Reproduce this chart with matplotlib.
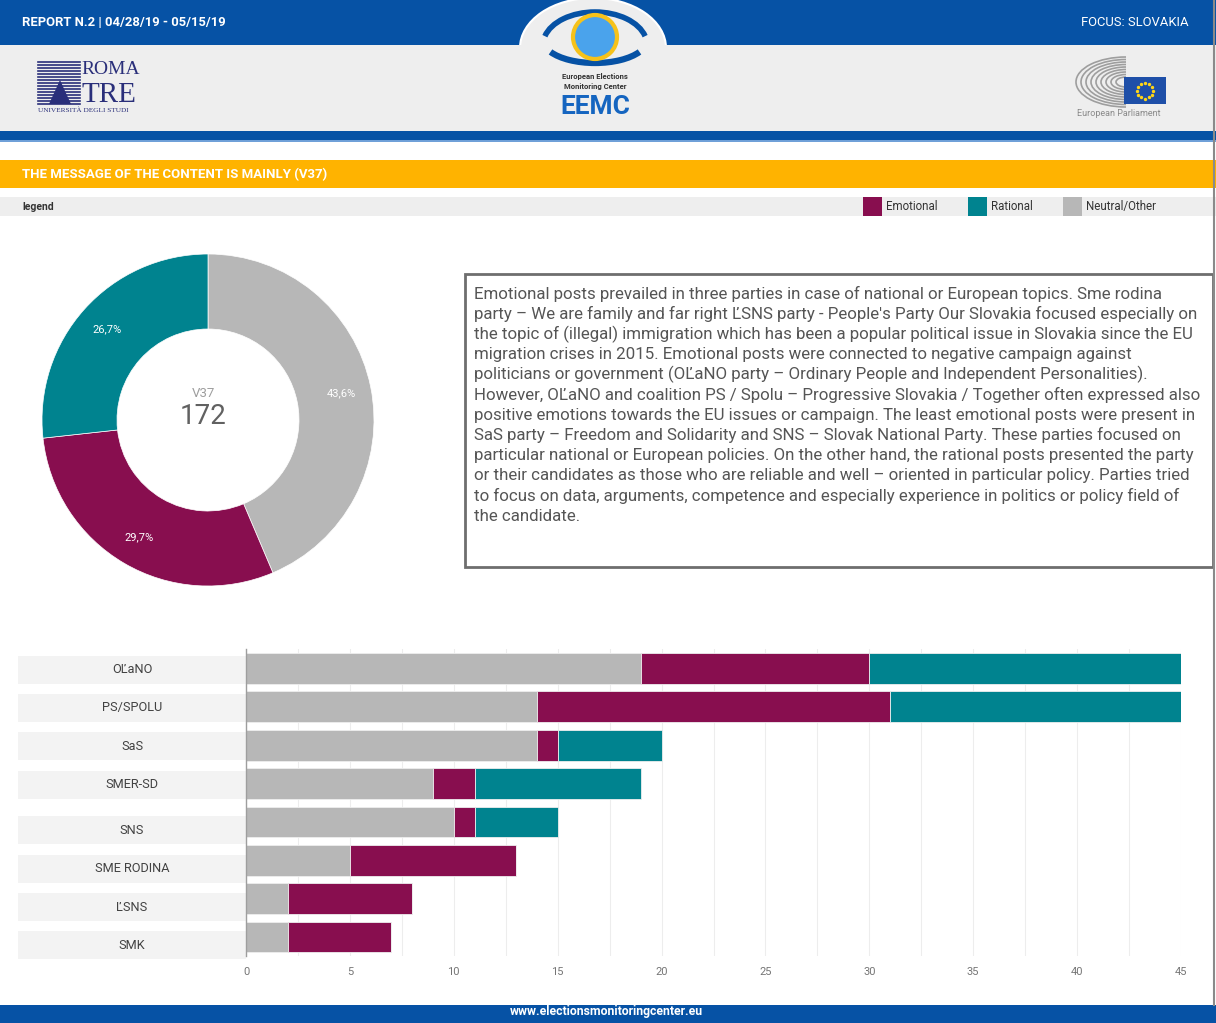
import numpy as np
import matplotlib
matplotlib.use("Agg")
import matplotlib.pyplot as plt
from matplotlib.patches import Rectangle, Circle, Ellipse, Arc, Polygon

plt.rcParams['font.family'] = ['Roboto', 'DejaVu Sans']

# === data ===
parties = ["OĽaNO", "PS/SPOLU", "SaS", "SMER-SD", "SNS", "SME RODINA", "ĽSNS", "SMK"]
neutral = [19, 14, 14, 9, 10, 5, 2, 2]
emotional = [11, 17, 1, 2, 1, 8, 6, 5]
rational = [15, 14, 5, 8, 4, 0, 0, 0]

donut_labels = ["Neutral/Other", "Emotional", "Rational"]
donut_total = 172

col_emo = "#880E4F"
col_rat = "#00838F"
col_neu = "#B7B7B7"
col_blue = "#0652A5"
col_orange = "#FFB300"

text_lines = [
    "Emotional posts prevailed in three parties in case of national or European topics. Sme rodina",
    "party – We are family and far right ĽSNS party - People's Party Our Slovakia focused especially on",
    "the topic of (illegal) immigration which has been a popular political issue in Slovakia since the EU",
    "migration crises in 2015. Emotional posts were connected to negative campaign against",
    "politicians or government (OĽaNO party – Ordinary People and Independent Personalities).",
    "However, OĽaNO and coalition PS / Spolu – Progressive Slovakia / Together often expressed also",
    "positive emotions towards the EU issues or campaign. The least emotional posts were present in",
    "SaS party – Freedom and Solidarity and SNS – Slovak National Party. These parties focused on",
    "particular national or European policies. On the other hand, the rational posts presented the party",
    "or their candidates as those who are reliable and well – oriented in particular policy. Parties tried",
    "to focus on data, arguments, competence and especially experience in politics or policy field of",
    "the candidate.",
]

W, H = 1216, 1023
fig = plt.figure(figsize=(W / 100, H / 100), dpi=100)


def fig_rect(x0, y0, x1, y1):
    return [x0 / W, 1 - y1 / H, (x1 - x0) / W, (y1 - y0) / H]


# === page chrome in pixel coords ===
bg = fig.add_axes([0, 0, 1, 1])
bg.set_xlim(0, W)
bg.set_ylim(H, 0)
bg.axis("off")

bg.add_patch(Rectangle((0, 0), W, 45, color=col_blue, lw=0))
bg.add_patch(Ellipse((593, 48), 146, 100, facecolor="#EEEEEE", edgecolor="white", lw=1.5))
bg.add_patch(Rectangle((0, 45), W, 86, color="#EEEEEE", lw=0))
bg.add_patch(Rectangle((0, 131), W, 9, color=col_blue, lw=0))
bg.add_patch(Rectangle((0, 140), W, 1.5, color="#6FA0D8", lw=0))
bg.text(22, 23, "REPORT N.2 | 04/28/19 - 05/15/19", color="white", fontsize=9.4,
        fontweight="bold", va="center", ha="left")
bg.text(1189, 23, "FOCUS: SLOVAKIA", color="white", fontsize=9.4, va="center", ha="right")

# EEMC logo (rough)
bg.add_patch(Arc((595, 45), 104, 66, theta1=190, theta2=350, color=col_blue, lw=4))
bg.add_patch(Arc((595, 40), 104, 46, theta1=15, theta2=165, color=col_blue, lw=4.5))
bg.add_patch(Circle((595, 37), 22, facecolor="#4AA3EC", edgecolor="#F6C21A", lw=3))
bg.text(595, 76, "European Elections", fontsize=5.5, fontweight="bold", color="#333333",
        ha="center", va="center")
bg.text(595, 87, "Monitoring Center", fontsize=5.5, fontweight="bold", color="#333333",
        ha="center", va="center")
bg.text(595, 107, "EEMC", fontsize=19, fontweight="bold", color="#1565C0",
        ha="center", va="center")

# Roma Tre logo (rough)
navy = "#2A2F7A"
for yy in np.arange(62, 106, 3):
    bg.plot([38, 80], [yy, yy], color=navy, lw=1.2)
bg.add_patch(Rectangle((47, 76), 26, 30, color="#EEEEEE", lw=0))
bg.add_patch(Polygon([(49, 104), (60, 80), (71, 104)], color=navy, lw=0))
bg.text(81, 70, "ROMA", family="Liberation Serif", fontsize=14, color=navy, va="center")
bg.text(81, 95, "TRE", family="Liberation Serif", fontsize=21, color=navy, va="center")
bg.text(38, 110, "UNIVERSITÀ DEGLI STUDI", family="Liberation Serif", fontsize=5.2,
        color=navy, va="center")

# European Parliament logo (rough)
for r in range(10, 52, 5):
    bg.add_patch(Arc((1126, 82), 2 * r, r, theta1=90, theta2=270, color="#9E9E9E", lw=1.2))
bg.add_patch(Rectangle((1124, 77), 42, 27, color="#1E4FA8", lw=0))
ang = np.linspace(0, 2 * np.pi, 12, endpoint=False)
bg.scatter(1145 + 8 * np.cos(ang), 90.5 + 8 * np.sin(ang), s=2, color="#FFD617", zorder=5)
bg.text(1119, 114, "European Parliament", fontsize=6.5, color="#8A8A8A",
        ha="center", va="center")

# section title + legend strip
bg.add_patch(Rectangle((0, 160), W, 28, color=col_orange, lw=0))
bg.text(22, 175, "THE MESSAGE OF THE CONTENT IS MAINLY (V37)", color="white", fontsize=9.5,
        fontweight="bold", va="center")
bg.add_patch(Rectangle((0, 197), W, 19, color="#EEEEEE", lw=0))
bg.text(22, 206.5, "legend", color="#333333", fontsize=7.5, fontweight="bold", va="center")
for x0, c, lab in [(863, col_emo, "Emotional"), (968, col_rat, "Rational"),
                   (1063, col_neu, "Neutral/Other")]:
    bg.add_patch(Rectangle((x0, 197), 19, 19, color=c, lw=0))
    bg.text(x0 + 23, 206.5, lab, color="#333333", fontsize=8.3, va="center")

# comment box
bg.add_patch(Rectangle((465, 274), 748, 293, facecolor="white", edgecolor="#6E6E6E", lw=2))
for i, line in enumerate(text_lines):
    bg.text(474, 294 + i * 20.2, line, fontsize=12.2, color="#555555", va="center")

# footer
bg.add_patch(Rectangle((0, 1005), W, 18, color=col_blue, lw=0))
bg.text(606, 1012, "www.electionsmonitoringcenter.eu", color="white", fontsize=8.8,
        fontweight="bold", ha="center", va="center")
bg.plot([1213.5, 1213.5], [0, 1005], color="#8A8A8A", lw=1.5)

# === donut ===
totals = [sum(neutral), sum(emotional), sum(rational)]
pie_ax = fig.add_axes(fig_rect(208 - 166, 420 - 166, 208 + 166, 420 + 166))
pie_ax.set_facecolor("none")
wedges, _, autotexts = pie_ax.pie(
    totals, colors=[col_neu, col_emo, col_rat], startangle=90, counterclock=False,
    radius=1, wedgeprops=dict(width=1 - 91 / 166, edgecolor="white", linewidth=0.5),
    autopct=lambda p: f"{p:.1f}%".replace(".", ","), pctdistance=0.82,
    textprops=dict(color="white", fontsize=8))
pie_ax.set_xlim(-1, 1)
pie_ax.set_ylim(-1, 1)
pie_ax.text(-0.03, 0.16, "V37", ha="center", va="center", fontsize=9.5, color="#9E9E9E")
pie_ax.text(-0.03, 0.02, str(donut_total), ha="center", va="center", fontsize=20,
            color="#616161")

# === stacked bars ===
ax = fig.add_axes(fig_rect(246, 649.3, 1181, 956.1))
ax.set_facecolor("none")
y = np.arange(len(parties))
left2 = np.array(neutral) + np.array(emotional)
ax.barh(y, neutral, height=0.8, color=col_neu, edgecolor="#EEEEEE", lw=0.6, zorder=3)
ax.barh(y, emotional, left=neutral, height=0.8, color=col_emo, edgecolor="#EEEEEE",
        lw=0.6, zorder=3)
ax.barh(y, rational, left=left2, height=0.8, color=col_rat, edgecolor="#EEEEEE",
        lw=0.6, zorder=3)
ax.set_xlim(0, 45)
ax.set_ylim(7.5, -0.5)
ax.set_xticks(np.arange(0, 46, 5))
ax.set_xticks(np.arange(2.5, 45, 5), minor=True)
ax.grid(axis="x", which="both", color="#EDEDED", lw=0.8, zorder=0)
ax.set_yticks([])
ax.tick_params(axis="x", which="both", length=0, labelsize=8, labelcolor="#757575", pad=8)
for s in ["top", "right", "bottom"]:
    ax.spines[s].set_visible(False)
ax.spines["left"].set_color("#9E9E9E")
ax.spines["left"].set_linewidth(1)
ax.spines["left"].set_zorder(4)

# category labels in grey boxes (lower four sit a little lower, as in the original)
px = 45 / 935
label_shift = [0.03, 0.03, 0.03, 0.03, 0.22, 0.22, 0.22, 0.22]
for i, name in enumerate(parties):
    yc = i + label_shift[i]
    ax.add_patch(Rectangle((-228 * px, yc - 0.365), 228 * px, 0.73, facecolor="#F3F3F3",
                           lw=0, clip_on=False, zorder=1))
    ax.text(-114 * px, yc, name, ha="center", va="center", fontsize=9.2, color="#424242")

fig.savefig("out.png", dpi=100)
